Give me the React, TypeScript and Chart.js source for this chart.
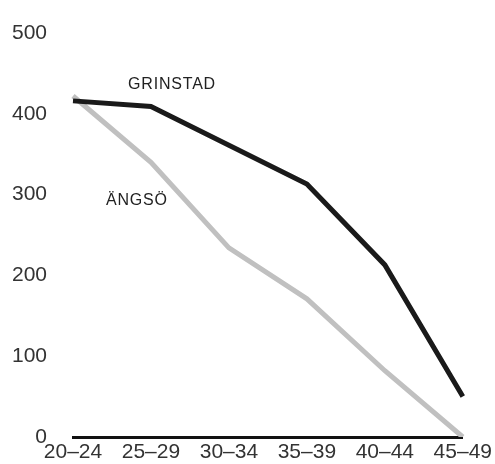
import React, { useEffect, useRef } from "react";
import { Chart, registerables } from "chart.js";

Chart.register(...registerables);

const categories = ["20–24", "25–29", "30–34", "35–39", "40–44", "45–49"];
const grinstad = [416, 409, 361, 313, 213, 50];
const angso = [422, 340, 234, 171, 82, 0];
const yTicks = [0, 100, 200, 300, 400, 500];

const labelPlugin = {
  id: "lineLabels",
  afterDatasetsDraw(chart: any) {
    const { ctx, scales } = chart;
    const x = scales.x;
    const y = scales.y;
    ctx.save();
    ctx.font = "16px 'Liberation Sans', Arial, sans-serif";
    ctx.fillStyle = "#222";
    ctx.textAlign = "center";
    ctx.textBaseline = "middle";
    try { (ctx as any).letterSpacing = "0.8px"; } catch (e) {}
    ctx.fillText("GRINSTAD", x.getPixelForValue(1.27), y.getPixelForValue(436));
    ctx.fillText("ÄNGSÖ", x.getPixelForValue(0.82), y.getPixelForValue(293));
    ctx.restore();
  },
};

export default function App() {
  const ref = useRef<HTMLCanvasElement>(null);
  useEffect(() => {
    if (!ref.current) return;
    const chart = new Chart(ref.current, {
      type: "line",
      data: {
        labels: categories,
        datasets: [
          { label: "GRINSTAD", data: grinstad, borderColor: "#1a1a1a", borderWidth: 5, pointRadius: 0, tension: 0 },
          { label: "ÄNGSÖ", data: angso, borderColor: "#c0c0c0", borderWidth: 5, pointRadius: 0, tension: 0 },
        ],
      },
      options: {
        responsive: false,
        animation: false,
        layout: { padding: { left: 8, right: 32, top: 33, bottom: 0 } },
        plugins: { legend: { display: false }, tooltip: { enabled: false }, title: { display: false } },
        scales: {
          x: {
            grid: { display: false, drawTicks: false },
            border: { display: true, color: "#111", width: 3 },
            ticks: { color: "#333", font: { family: "'Liberation Sans', Arial, sans-serif", size: 21 }, padding: 3, maxRotation: 0, autoSkip: false },
            afterFit: (s: any) => { s.height = 27; },
          },
          y: {
            min: 0,
            max: 500,
            afterBuildTicks: (s: any) => { s.ticks = yTicks.map((v) => ({ value: v })); },
            grid: { display: false, drawTicks: false },
            border: { display: false },
            ticks: { color: "#333", font: { family: "'Liberation Sans', Arial, sans-serif", size: 21 }, crossAlign: "near", padding: 26 },
            afterFit: (s: any) => { s.width = 65; s.paddingTop = 0; s.paddingBottom = 0; },
          },
        },
      },
      plugins: [labelPlugin],
    });
    return () => chart.destroy();
  }, []);
  return (
    <div style={{ position: "fixed", left: 0, top: 0, width: 495, height: 464, background: "#fff" }}>
      <canvas ref={ref} width={495} height={464} />
    </div>
  );
}
